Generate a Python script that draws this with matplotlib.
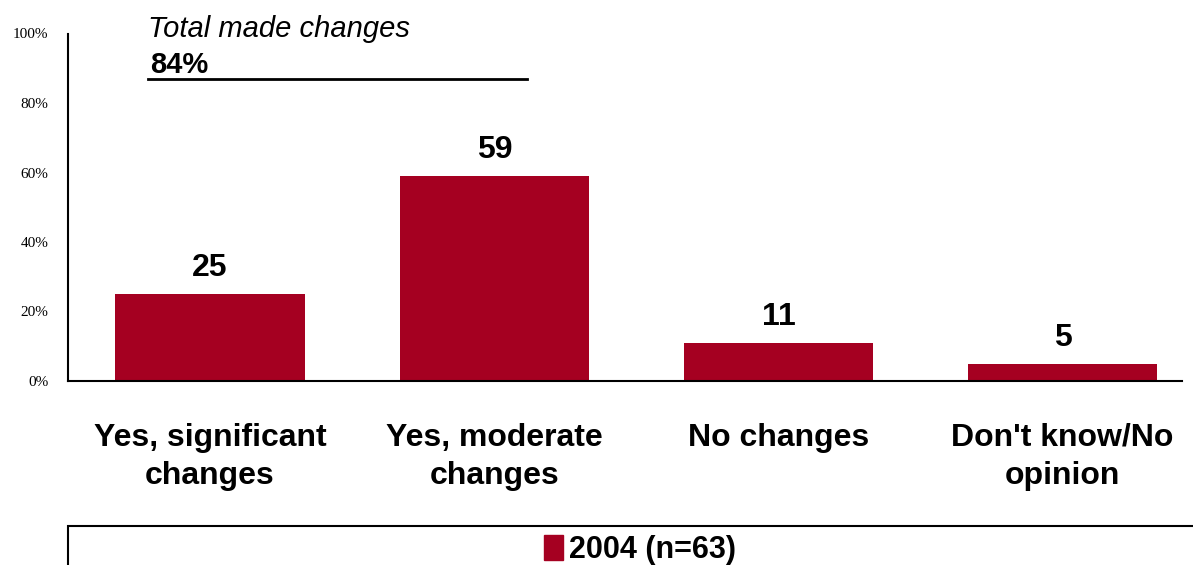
import matplotlib
matplotlib.use("Agg")
import matplotlib.pyplot as plt
from matplotlib.patches import Rectangle, Patch

categories = ["Yes, significant\nchanges", "Yes, moderate\nchanges", "No changes", "Don't know/No\nopinion"]
values = [25, 59, 11, 5]
series_name = "2004 (n=63)"
yticks = [0, 20, 40, 60, 80, 100]
color = "#A50021"

plt.rcParams['font.family'] = ['Liberation Sans', 'DejaVu Sans']
W, H = 1193, 565
fig = plt.figure(figsize=(W/100, H/100), dpi=100)
ax = fig.add_axes([68/W, 1-381/H, (1182-68)/W, 347.5/H])
x = list(range(len(values)))
ax.bar(x, values, width=0.666, color=color, zorder=2)
ax.set_xlim(-0.5, 3.42)
ax.set_ylim(0, 100)
ax.set_yticks(yticks)
ax.set_yticklabels([f"{v}%" for v in yticks], family='Liberation Serif', fontsize=11)
ax.tick_params(axis='y', length=0, pad=14)
ax.tick_params(axis='x', length=0, pad=30)
ax.set_xticks(x)
ax.set_xticklabels(categories, fontsize=23, fontweight='bold', linespacing=1.35)
for s in ['top', 'right']:
    ax.spines[s].set_visible(False)
for s in ['left', 'bottom']:
    ax.spines[s].set_linewidth(1.5)
for xi, v in zip(x, values):
    ax.annotate(str(v), (xi, v), xytext=(0, 13), textcoords='offset points',
                ha='center', va='baseline', fontsize=23, fontweight='bold')

# annotation
fig.text(148/W, 1-29/H, "Total made changes", fontsize=21, style='italic', va='center', ha='left')
fig.text(150/W, 1-65/H, "84%", fontsize=21, fontweight='bold', va='center', ha='left')
fig.add_artist(plt.Line2D([148/W, 527/W], [1-79/H, 1-79/H], color='black', lw=2))

# legend box
fig.add_artist(Rectangle((68/W, -0.01), (1200-68)/W, (565-526)/H + 0.01, transform=fig.transFigure,
                         facecolor='white', edgecolor='black', lw=1.5))
fig.legend(handles=[Patch(color=color, label=series_name)], loc='center', bbox_to_anchor=(640/W, 1-550/H),
           frameon=False, prop={'weight': 'bold', 'size': 22}, handlelength=0.6, handleheight=0.9,
           handletextpad=0.2, borderpad=0)
fig.savefig("out.png", dpi=100)
